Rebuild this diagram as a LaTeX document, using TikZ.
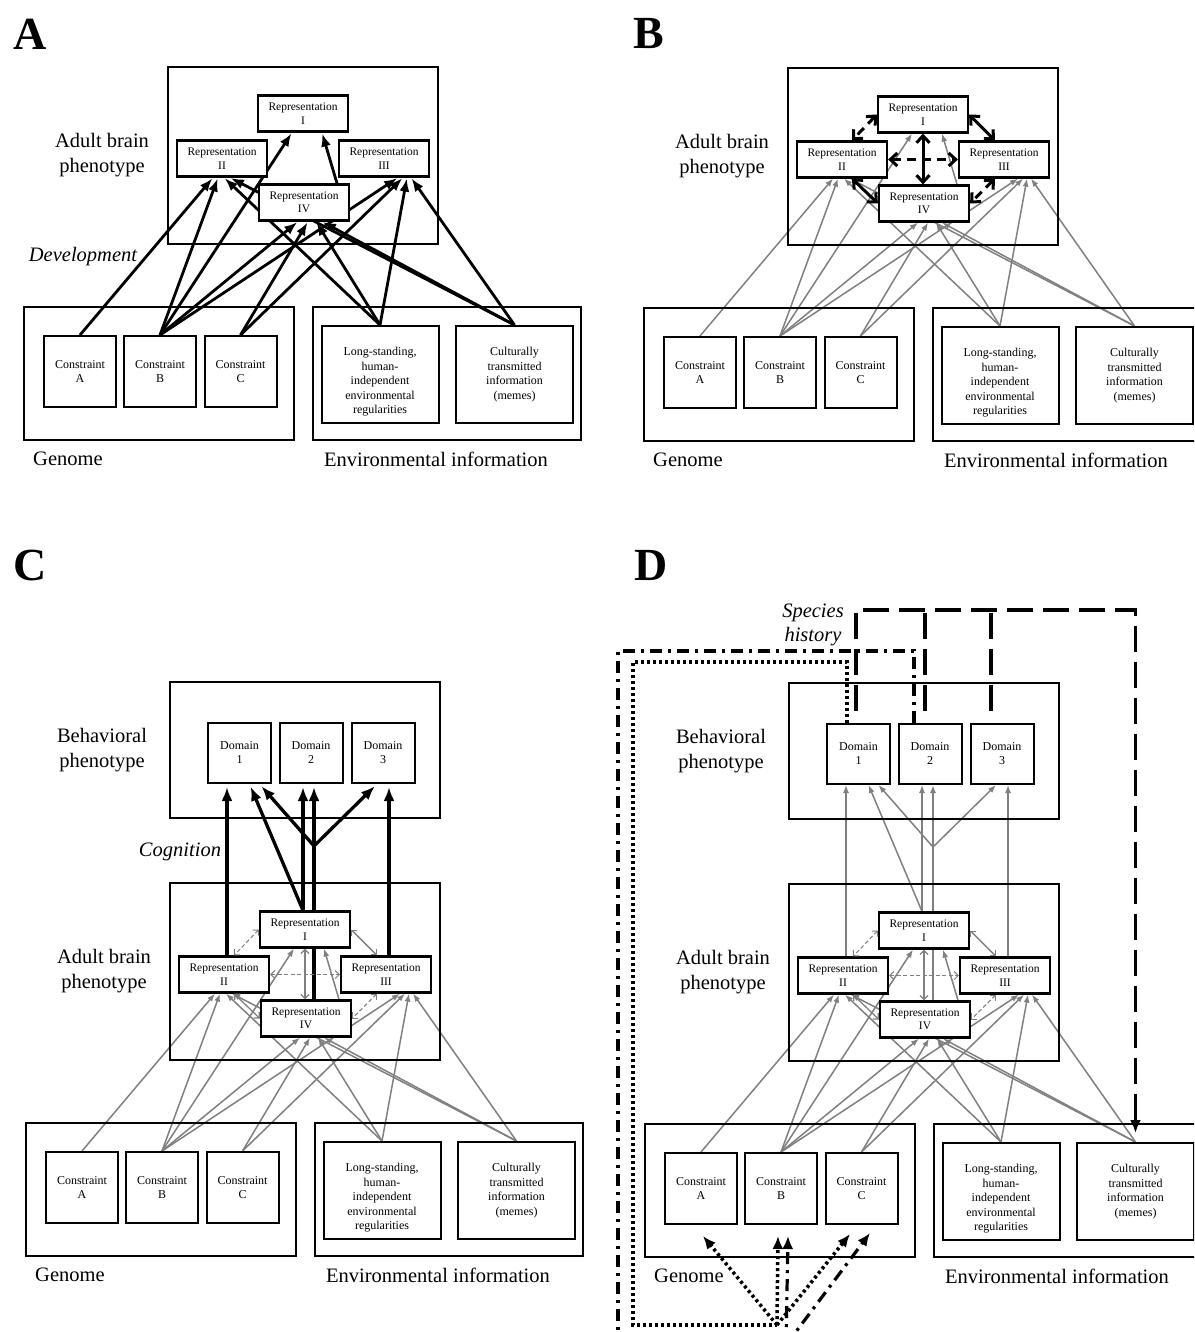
\documentclass[tikz,border=0pt]{standalone}
\usepackage{fontspec}
\setmainfont{Liberation Serif}
\usetikzlibrary{arrows.meta,calc}
\pgfdeclarelayer{base}
\pgfdeclarelayer{bg}
\pgfsetlayers{base,bg,main}
\definecolor{gr}{RGB}{128,128,128}
\tikzset{
  outerbox/.style={draw, line width=1.4pt, inner sep=0pt},
  repbox/.style={draw, line width=2.2pt, fill=white, minimum width=90pt, minimum height=36pt, inner sep=0pt, align=center, font=\fontsize{11.5}{13.5}\selectfont},
  conbox/.style={draw, line width=2pt, fill=white, minimum width=72pt, minimum height=71pt, inner sep=0pt, align=center, font=\fontsize{12}{14}\selectfont},
  envbox/.style={draw, line width=2pt, fill=white, minimum width=117pt, minimum height=97pt, inner sep=0pt, align=center, font=\fontsize{12}{14.5}\selectfont},
  envtext/.style={align=center, inner sep=0pt, font=\fontsize{12}{14.5}\selectfont},
  dombox/.style={draw, line width=2pt, fill=white, minimum width=63pt, minimum height=60pt, inner sep=0pt, align=center, font=\fontsize{12}{14}\selectfont},
  biglabel/.style={align=center, inner sep=0pt, font=\fontsize{20.5}{25}\selectfont},
  itlabel/.style={align=center, inner sep=0pt, font=\fontsize{20.5}{24}\selectfont\itshape},
  panellabel/.style={inner sep=0pt, font=\fontsize{46}{46}\selectfont\bfseries},
  devA/.style={black, line width=2.8pt, -{Latex[length=13pt,width=10pt]}, shorten >=1pt},
  devG/.style={gr, line width=1.5pt, -{Latex[length=8pt,width=6pt]}},
  cogB/.style={black, line width=3.3pt, -{Latex[length=14pt,width=11pt]}, shorten >=3pt},
  cogG/.style={gr, line width=1.5pt, -{Latex[length=8pt,width=6pt]}},
  intBs/.style={black, line width=3pt, {Straight Barb[length=7pt,width=13pt]}-{Straight Barb[length=7pt,width=13pt]}},
  intBd/.style={intBs, dash pattern=on 9pt off 6pt},
  intGs/.style={gr, line width=1.3pt, {Straight Barb[length=4pt,width=8pt]}-{Straight Barb[length=4pt,width=8pt]}},
  intGd/.style={gr, line width=1pt, dash pattern=on 4pt off 2.5pt, {Straight Barb[length=4pt,width=8pt]}-{Straight Barb[length=4pt,width=8pt]}},
  dashLn/.style={black, line width=3.2pt, dash pattern=on 26pt off 10pt},
  dashL/.style={dashLn, -{Latex[length=13pt,width=11pt]}},
  dotL/.style={black, line width=3.5pt, dash pattern=on 3pt off 3pt},
  dotA/.style={dotL, -{Latex[length=13pt,width=11pt]}},
  ddLn/.style={black, line width=3.2pt, dash pattern=on 12pt off 6pt on 3pt off 6pt},
  ddA/.style={ddLn, -{Latex[length=13pt,width=11pt]}},
}
\newcommand{\basepart}[1]{%
  \node[outerbox, minimum width=270pt, minimum height=177pt] (#1-adult) at (303,155.5) {};
  \node[biglabel] (#1-adultlbl) at (102,155) {Adult brain\\phenotype};
  \node[repbox] (#1-r1) at (303,113.5) {Representation\\I};
  \node[repbox] (#1-r2) at (222,158.5) {Representation\\II};
  \node[repbox] (#1-r3) at (384,158.5) {Representation\\III};
  \node[repbox] (#1-r4) at (304,202.5) {Representation\\IV};
  \node[outerbox, minimum width=270pt, minimum height=133pt] (#1-gen) at (159,373.5) {};
  \node[outerbox, minimum width=268pt, minimum height=133pt] (#1-env) at (447,373.5) {};
  \node[conbox] (#1-ca) at (80,371.5) {Constraint\\A};
  \node[conbox] (#1-cb) at (160,371.5) {Constraint\\B};
  \node[conbox] (#1-cc) at (240.5,371.5) {Constraint\\C};
  \node[envbox] (#1-ls) at (380,374.5) {};
  \node[envtext] (#1-lstext) at (380,382) {Long-standing,\\human-\\independent\\environmental\\regularities};
  \node[envbox] (#1-ct) at (514.5,374.5) {Culturally\\transmitted\\information\\(memes)};
  \node[biglabel, anchor=west] (#1-genlbl) at (33,459) {Genome};
  \node[biglabel] (#1-envlbl) at (436,459) {Environmental information};
}
\newcommand{\behavpart}[1]{%
  \node[outerbox, minimum width=270pt, minimum height=136pt] (#1-beh) at (305,750) {};
  \node[biglabel] (#1-behlbl) at (102,750) {Behavioral\\phenotype};
  \node[dombox] (#1-d1) at (239.5,753) {Domain\\1};
  \node[dombox] (#1-d2) at (311,753) {Domain\\2};
  \node[dombox] (#1-d3) at (383,753) {Domain\\3};
}
\newcommand{\devarrows}[2]{%
 \begin{pgfonlayer}{bg}
  \draw[#2] (#1-ca.north) -- ($(#1-r2.south)+(-9,0)$);
  \draw[#2] (#1-cb.north) -- ($(#1-r2.south)+(-4,0)$);
  \draw[#2] (#1-cb.north) -- ($(#1-r1.south)+(-11,0)$);
  \draw[#2] (#1-cb.north) -- ($(#1-r4.south)+(-6,0)$);
  \draw[#2] (#1-cb.north) -- ($(#1-r3.south)+(14,0)$);
  \draw[#2] (#1-cc.north) -- ($(#1-r4.south)+(4,0)$);
  \draw[#2] (#1-cc.north) -- ($(#1-r3.south)+(19,0)$);
  \draw[#2] (#1-ls.north) -- ($(#1-r2.south)+(2,0)$);
  \draw[#2] (#1-ls.north) -- ($(#1-r4.south)+(12,0)$);
  \draw[#2] (#1-ls.north) -- ($(#1-r3.south)+(23,0)$);
  \draw[#2] (#1-ct.north) -- ($(#1-r2.south)+(8,0)$);
  \draw[#2] (#1-ct.north) -- ($(#1-r4.south)+(18,0)$);
  \draw[#2] (#1-ct.north) -- ($(#1-r3.south)+(27,0)$);
  \draw[#2] ($(#1-r4.north)+(33,0)$) -- ($(#1-r1.south)+(19,0)$);
 \end{pgfonlayer}
}
\newcommand{\internalarrows}[3]{%
  \draw[#3] (#1-r1.west) -- ($(#1-r2.north)+(10,0)$);
  \draw[#2] (#1-r1.east) -- ($(#1-r3.north)+(-9,0)$);
  \draw[#3] (#1-r2.east) -- (#1-r3.west);
  \draw[#2] (#1-r1.south) -- (#1-r1.south |- #1-r4.north);
  \draw[#2] ($(#1-r2.south)+(10,0)$) -- (#1-r4.west);
  \draw[#3] ($(#1-r3.south)+(-9,0)$) -- (#1-r4.east);
}
\newcommand{\cogarrows}[2]{%
 \begin{pgfonlayer}{bg}
  \coordinate (#1-s2) at ($(#1-r2.north)+(3,0)$);
  \coordinate (#1-s3) at ($(#1-r3.north)+(3,0)$);
  \coordinate (#1-s1) at ($(#1-r1.north)+(-2,0)$);
  \coordinate (#1-s4) at ($(#1-r4.north)+(8,0)$);
  \coordinate (#1-jy) at ($(#1-d2.south)+(0,62)$);
  \coordinate (#1-j) at (#1-s4 |- #1-jy);
  \draw[#2] (#1-s2) -- (#1-s2 |- #1-d1.south);
  \draw[#2] (#1-s3) -- (#1-s3 |- #1-d3.south);
  \draw[#2] (#1-s1) -- ($(#1-d1.south)+(10,0)$);
  \draw[#2] (#1-s1) -- (#1-s1 |- #1-d2.south);
  \draw[#2] (#1-s4) -- (#1-j) -- (#1-j |- #1-d2.south);
  \draw[#2] (#1-j) -- ($(#1-d1.south)+(20,0)$);
  \draw[#2] (#1-j) -- ($(#1-d3.south)+(-6,0)$);
 \end{pgfonlayer}
}
\begin{document}
\begin{tikzpicture}[x=1pt,y=-1pt]
\begin{pgfonlayer}{base}
\fill[white] (0,0) rectangle (1194,1332);
\end{pgfonlayer}
\useasboundingbox (0,0) rectangle (1194,1332);
\clip (0,0) rectangle (1194,1332);

% ---------- Panel A
\node[panellabel] (lA) at (30,34) {A};
\basepart{a}
\devarrows{a}{devA}
\node[itlabel] (devlbl) at (83,257) {Development};

% ---------- Panel B
\node[panellabel] (lB) at (649,34) {B};
\begin{scope}[shift={(620,1)}]
\basepart{b}
\end{scope}
\devarrows{b}{devG}
\internalarrows{b}{intBs}{intBd}

% ---------- Panel C
\node[panellabel] (lC) at (30,565) {C};
\begin{scope}[shift={(2,816)}]
\basepart{c}
\end{scope}
\behavpart{c}
\devarrows{c}{devG}
\internalarrows{c}{intGs}{intGd}
\cogarrows{c}{cogB}
\node[itlabel] (coglbl) at (180,852) {Cognition};

% ---------- Panel D
\node[panellabel] (lD) at (651,565) {D};
\begin{scope}[shift={(621,817)}]
\basepart{d}
\end{scope}
\begin{scope}[shift={(619,1)}]
\behavpart{d}
\end{scope}
\devarrows{d}{devG}
\internalarrows{d}{intGs}{intGd}
\cogarrows{d}{cogG}
\node[itlabel] (shlbl) at (813,625) {Species\\history};

% species history: dashed
\coordinate (sh1) at ($(d-d1.north)+(-2.5,-12)$);
\coordinate (sh1t) at ($(d-d1.north)+(-2.5,-113)$);
\coordinate (shr) at (sh1t -| d-ct.north);
\coordinate (shend) at ($(d-ct.north)+(0,-9)$);
\draw[dashL] (sh1) -- (sh1t) -- (shr) -- (shend);
\coordinate (sh2) at ($(d-d2.north)+(-5,-12)$);
\draw[dashLn] (sh2) -- (sh2 |- sh1t);
\coordinate (sh3) at ($(d-d3.north)+(-11,-12)$);
\draw[dashLn] (sh3) -- (sh3 |- sh1t);

% dotted
\coordinate (dt0) at ($(d-d1.north)+(-11.5,0)$);
\coordinate (dtc1) at (633,662);
\coordinate (dtc2) at (633,1325);
\coordinate (dotsrc) at (777,1325);
\draw[dotL] (dt0) |- (dtc1) -- (dtc2) -- (dotsrc);
\draw[dotA] (dotsrc) -- ($(d-ca.south)+(2,11)$);
\draw[dotA] (dotsrc) -- ($(d-cb.south)+(-3,11)$);
\draw[dotA] (dotsrc) -- ($(d-cc.south)+(-11.5,9)$);

% dash-dot
\coordinate (dd0) at ($(d-d2.north)+(-16,0)$);
\coordinate (ddc1) at (618,651);
\coordinate (ddc2) at (618,1345);
\coordinate (ddsrc) at (786,1345);
\draw[ddLn] (dd0) |- (ddc1) -- (ddc2) -- (ddsrc);
\draw[ddA] (ddsrc) -- ($(d-cb.south)+(7,11)$);
\draw[ddA] (ddsrc) -- ($(d-cc.south)+(8.5,8)$);
\end{tikzpicture}
\end{document}
